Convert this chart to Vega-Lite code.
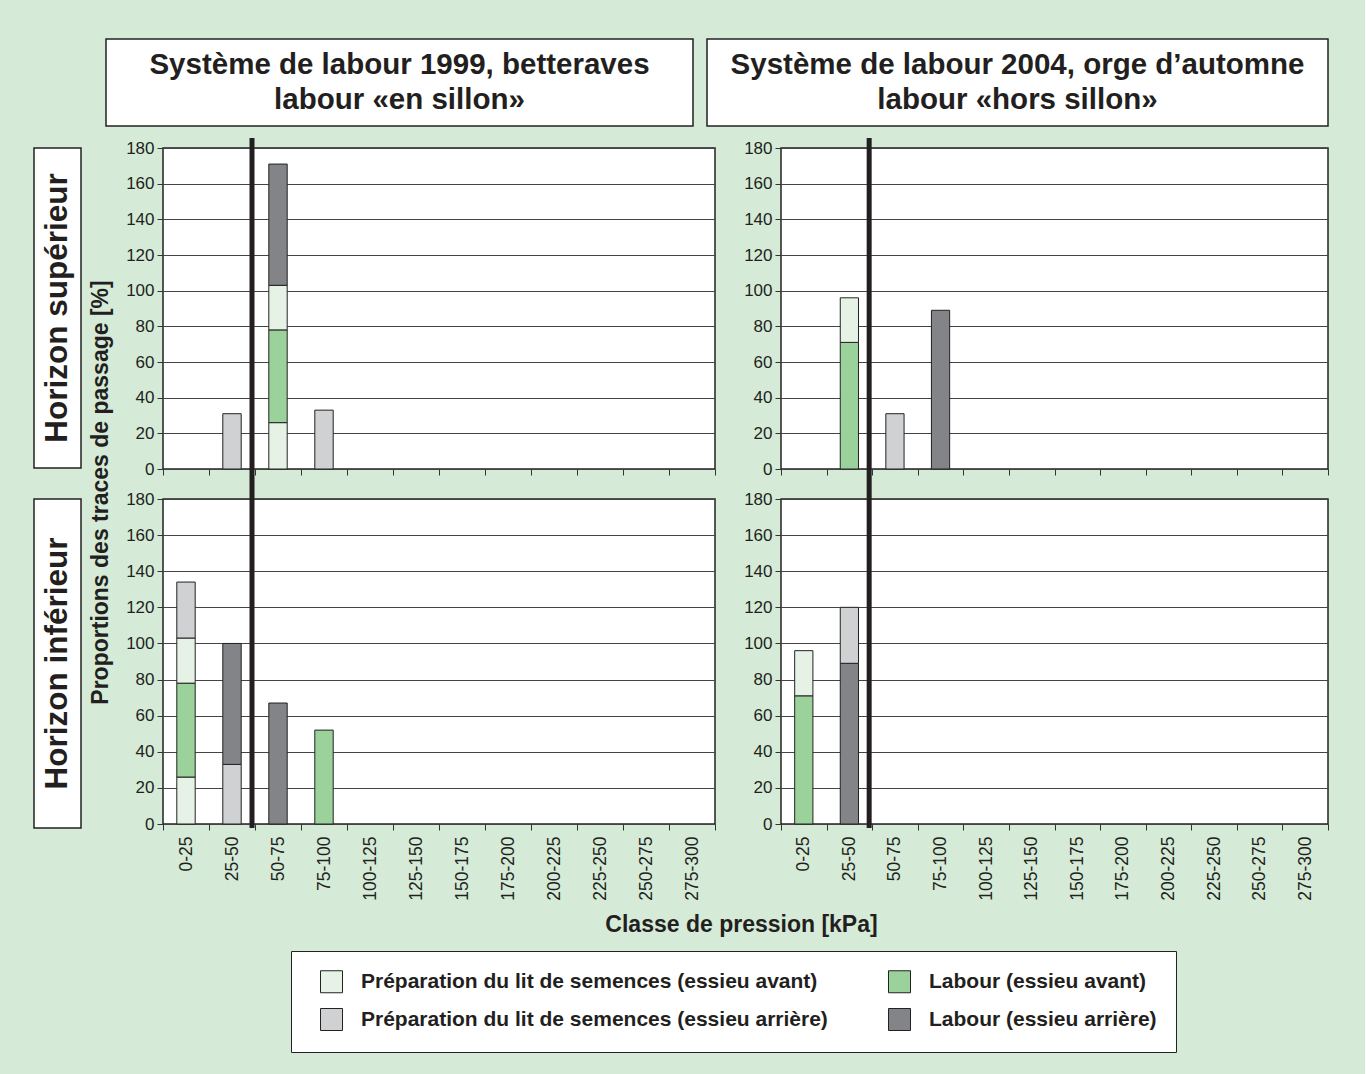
{
  "$schema": "https://vega.github.io/schema/vega-lite/v6.json",
  "background": "#d5ebd7",
  "padding": {"left": 33, "top": 38, "right": 35, "bottom": 22},
  "config": {
    "font": "Liberation Sans",
    "view": {"stroke": null},
    "axis": {"labelFont": "Liberation Sans", "titleFont": "Liberation Sans", "labelColor": "#231f20", "titleColor": "#231f20", "tickColor": "#333333", "domain": false},
    "legend": {
      "orient": "none", "legendX": 257, "legendY": 912, "columns": 2, "direction": "horizontal",
      "fillColor": "white", "strokeColor": "#222222", "padding": 19, "symbolOffset": 10,
      "symbolType": "square", "symbolSize": 484, "symbolStrokeColor": "#222222", "symbolStrokeWidth": 1,
      "labelFontSize": 21, "labelFontWeight": "bold", "labelFont": "Liberation Sans", "labelColor": "#231f20",
      "labelLimit": 0, "labelOffset": 18, "columnPadding": 50, "rowPadding": 11, "title": null
    }
  },
  "data": {"values": [
    {"sys": "1999", "hor": "sup", "classe": "25-50", "cat": "Préparation du lit de semences (essieu arrière)", "val": 31, "o": 1},
    {"sys": "1999", "hor": "sup", "classe": "50-75", "cat": "Préparation du lit de semences (essieu avant)", "val": 26, "o": 1},
    {"sys": "1999", "hor": "sup", "classe": "50-75", "cat": "Labour (essieu avant)", "val": 52, "o": 2},
    {"sys": "1999", "hor": "sup", "classe": "50-75", "cat": "Préparation du lit de semences (essieu avant)", "val": 25, "o": 3},
    {"sys": "1999", "hor": "sup", "classe": "50-75", "cat": "Labour (essieu arrière)", "val": 68, "o": 4},
    {"sys": "1999", "hor": "sup", "classe": "75-100", "cat": "Préparation du lit de semences (essieu arrière)", "val": 33, "o": 1},
    {"sys": "1999", "hor": "inf", "classe": "0-25", "cat": "Préparation du lit de semences (essieu avant)", "val": 26, "o": 1},
    {"sys": "1999", "hor": "inf", "classe": "0-25", "cat": "Labour (essieu avant)", "val": 52, "o": 2},
    {"sys": "1999", "hor": "inf", "classe": "0-25", "cat": "Préparation du lit de semences (essieu avant)", "val": 25, "o": 3},
    {"sys": "1999", "hor": "inf", "classe": "0-25", "cat": "Préparation du lit de semences (essieu arrière)", "val": 31, "o": 4},
    {"sys": "1999", "hor": "inf", "classe": "25-50", "cat": "Préparation du lit de semences (essieu arrière)", "val": 33, "o": 1},
    {"sys": "1999", "hor": "inf", "classe": "25-50", "cat": "Labour (essieu arrière)", "val": 67, "o": 2},
    {"sys": "1999", "hor": "inf", "classe": "50-75", "cat": "Labour (essieu arrière)", "val": 67, "o": 1},
    {"sys": "1999", "hor": "inf", "classe": "75-100", "cat": "Labour (essieu avant)", "val": 52, "o": 1},
    {"sys": "2004", "hor": "sup", "classe": "25-50", "cat": "Labour (essieu avant)", "val": 71, "o": 1},
    {"sys": "2004", "hor": "sup", "classe": "25-50", "cat": "Préparation du lit de semences (essieu avant)", "val": 25, "o": 2},
    {"sys": "2004", "hor": "sup", "classe": "50-75", "cat": "Préparation du lit de semences (essieu arrière)", "val": 31, "o": 1},
    {"sys": "2004", "hor": "sup", "classe": "75-100", "cat": "Labour (essieu arrière)", "val": 89, "o": 1},
    {"sys": "2004", "hor": "inf", "classe": "0-25", "cat": "Labour (essieu avant)", "val": 71, "o": 1},
    {"sys": "2004", "hor": "inf", "classe": "0-25", "cat": "Préparation du lit de semences (essieu avant)", "val": 25, "o": 2},
    {"sys": "2004", "hor": "inf", "classe": "25-50", "cat": "Labour (essieu arrière)", "val": 89, "o": 1},
    {"sys": "2004", "hor": "inf", "classe": "25-50", "cat": "Préparation du lit de semences (essieu arrière)", "val": 31, "o": 2}
  ]},
  "spacing": 7,
  "vconcat": [
    {
      "bounds": "flush",
      "spacing": 14,
      "hconcat": [
        {"width": 58, "height": 87, "data": {"values": [{"label": ""}]}, "mark": {"type": "text"}, "encoding": {"text": {"field": "label"}}},
        {"width": 587, "height": 87, "view": {"fill": "white", "stroke": "#222222", "strokeWidth": 1.5},
         "data": {"values": [{"label": "Système de labour 1999, betteraves\nlabour «en sillon»"}]},
         "mark": {"type": "text", "fontSize": 29.5, "fontWeight": "bold", "lineBreak": "\n", "lineHeight": 35, "baseline": "middle", "align": "center", "dy": -17.5, "color": "#231f20"},
         "encoding": {"text": {"field": "label"}}},
        {"width": 621, "height": 87, "view": {"fill": "white", "stroke": "#222222", "strokeWidth": 1.5},
         "data": {"values": [{"label": "Système de labour 2004, orge d’automne\nlabour «hors sillon»"}]},
         "mark": {"type": "text", "fontSize": 29.5, "fontWeight": "bold", "lineBreak": "\n", "lineHeight": 35, "baseline": "middle", "align": "center", "dy": -17.5, "color": "#231f20"},
         "encoding": {"text": {"field": "label"}}}
      ]
    },
    {
      "bounds": "flush",
      "align": "each",
      "columns": 5,
      "spacing": {"row": 30, "column": 0},
      "concat": [
        {"width": 47, "height": 320, "view": {"fill": "white", "stroke": "#222222", "strokeWidth": 1.5},
         "data": {"values": [{"label": "Horizon supérieur"}]},
         "mark": {"type": "text", "fontSize": 31.5, "fontWeight": "bold", "angle": 270, "baseline": "middle", "align": "center", "color": "#231f20"},
         "encoding": {"text": {"field": "label"}}},
        {"width": 82, "height": 321, "data": {"values": [{"label": ""}]}, "mark": {"type": "text"}, "encoding": {"text": {"field": "label"}}},
        {
          "width": 552, "height": 321,
          "view": {"fill": "white", "stroke": "#222222", "strokeWidth": 1.5},
          "layer": [
            {
              "transform": [{"filter": "datum.sys === '1999' && datum.hor === 'sup'"}],
              "mark": {"type": "bar", "width": {"band": 0.4}, "stroke": "#222222", "strokeWidth": 1},
              "encoding": {
                "x": {"field": "classe", "type": "nominal", "sort": null,
                      "scale": {"domain": ["0-25", "25-50", "50-75", "75-100", "100-125", "125-150", "150-175", "175-200", "200-225", "225-250", "250-275", "275-300"], "paddingInner": 0, "paddingOuter": 0},
                      "axis": {"title": null, "labels": false, "ticks": true, "tickBand": "extent", "tickSize": 6, "grid": false}},
                "y": {"field": "val", "type": "quantitative", "stack": "zero", "scale": {"domain": [0, 180], "nice": false},
                      "axis": {"values": [0, 20, 40, 60, 80, 100, 120, 140, 160, 180], "tickCount": 20, "grid": true, "gridColor": "#444444", "tickSize": 6, "labelPadding": 3, "labelFontSize": 17,
                               "title": "Proportions des traces de passage [%]", "titleFontSize": 23, "titleFontWeight": "bold", "titleX": -51, "titleY": 344, "titleAngle": -90, "titleAlign": "center", "titleBaseline": "bottom"}},
                "color": {"field": "cat", "type": "nominal",
                          "scale": {"domain": ["Préparation du lit de semences (essieu avant)", "Labour (essieu avant)", "Préparation du lit de semences (essieu arrière)", "Labour (essieu arrière)"], "range": ["#e6f2e5", "#9bd19a", "#d0d1d3", "#838487"]}},
                "order": {"field": "o", "type": "quantitative"}
              }
            },
            {
              "data": {"values": [{}]},
              "mark": {"type": "rule", "strokeWidth": 5, "color": "#231f20", "clip": false, "xOffset": -3},
              "encoding": {
                "x": {"datum": "50-75", "type": "nominal", "bandPosition": 0},
                "y": {"datum": 185.6, "type": "quantitative"},
                "y2": {"datum": -8.4}
              }
            }
          ]
        },
        {"width": 66, "height": 321, "data": {"values": [{"label": ""}]}, "mark": {"type": "text"}, "encoding": {"text": {"field": "label"}}},
        {
          "width": 547, "height": 321,
          "view": {"fill": "white", "stroke": "#222222", "strokeWidth": 1.5},
          "layer": [
            {
              "transform": [{"filter": "datum.sys === '2004' && datum.hor === 'sup'"}],
              "mark": {"type": "bar", "width": {"band": 0.4}, "stroke": "#222222", "strokeWidth": 1},
              "encoding": {
                "x": {"field": "classe", "type": "nominal", "sort": null,
                      "scale": {"domain": ["0-25", "25-50", "50-75", "75-100", "100-125", "125-150", "150-175", "175-200", "200-225", "225-250", "250-275", "275-300"], "paddingInner": 0, "paddingOuter": 0},
                      "axis": {"title": null, "labels": false, "ticks": true, "tickBand": "extent", "tickSize": 6, "grid": false}},
                "y": {"field": "val", "type": "quantitative", "stack": "zero", "scale": {"domain": [0, 180], "nice": false},
                      "axis": {"values": [0, 20, 40, 60, 80, 100, 120, 140, 160, 180], "tickCount": 20, "grid": true, "gridColor": "#444444", "tickSize": 6, "labelPadding": 3, "labelFontSize": 17, "title": null}},
                "color": {"field": "cat", "type": "nominal"},
                "order": {"field": "o", "type": "quantitative"}
              }
            },
            {
              "data": {"values": [{}]},
              "mark": {"type": "rule", "strokeWidth": 5, "color": "#231f20", "clip": false, "xOffset": -3},
              "encoding": {
                "x": {"datum": "50-75", "type": "nominal", "bandPosition": 0},
                "y": {"datum": 185.6, "type": "quantitative"},
                "y2": {"datum": -8.4}
              }
            }
          ]
        },
        {"width": 47, "height": 329, "view": {"fill": "white", "stroke": "#222222", "strokeWidth": 1.5},
         "data": {"values": [{"label": "Horizon inférieur"}]},
         "mark": {"type": "text", "fontSize": 31.5, "fontWeight": "bold", "angle": 270, "baseline": "middle", "align": "center", "color": "#231f20"},
         "encoding": {"text": {"field": "label"}}},
        {"width": 82, "height": 325, "data": {"values": [{"label": ""}]}, "mark": {"type": "text"}, "encoding": {"text": {"field": "label"}}},
        {
          "width": 552, "height": 325,
          "view": {"fill": "white", "stroke": "#222222", "strokeWidth": 1.5},
          "layer": [
            {
              "transform": [{"filter": "datum.sys === '1999' && datum.hor === 'inf'"}],
              "mark": {"type": "bar", "width": {"band": 0.4}, "stroke": "#222222", "strokeWidth": 1},
              "encoding": {
                "x": {"field": "classe", "type": "nominal", "sort": null,
                      "scale": {"domain": ["0-25", "25-50", "50-75", "75-100", "100-125", "125-150", "150-175", "175-200", "200-225", "225-250", "250-275", "275-300"], "paddingInner": 0, "paddingOuter": 0},
                      "axis": {"labelAngle": -90, "labelAlign": "right", "labelBaseline": "middle", "labelFontSize": 17.5, "labelPadding": 6, "ticks": true, "tickBand": "extent", "tickSize": 6, "grid": false,
                               "title": "Classe de pression [kPa]", "titleFontSize": 23, "titleFontWeight": "bold", "titleX": 578, "titleY": 89, "titleAlign": "center", "titleBaseline": "top"}},
                "y": {"field": "val", "type": "quantitative", "stack": "zero", "scale": {"domain": [0, 180], "nice": false},
                      "axis": {"values": [0, 20, 40, 60, 80, 100, 120, 140, 160, 180], "tickCount": 20, "grid": true, "gridColor": "#444444", "tickSize": 6, "labelPadding": 3, "labelFontSize": 17, "title": null}},
                "color": {"field": "cat", "type": "nominal"},
                "order": {"field": "o", "type": "quantitative"}
              }
            },
            {
              "data": {"values": [{}]},
              "mark": {"type": "rule", "strokeWidth": 5, "color": "#231f20", "clip": false, "xOffset": -3},
              "encoding": {
                "x": {"datum": "50-75", "type": "nominal", "bandPosition": 0},
                "y": {"datum": 188.3, "type": "quantitative"},
                "y2": {"datum": -2.2}
              }
            }
          ]
        },
        {"width": 66, "height": 325, "data": {"values": [{"label": ""}]}, "mark": {"type": "text"}, "encoding": {"text": {"field": "label"}}},
        {
          "width": 547, "height": 325,
          "view": {"fill": "white", "stroke": "#222222", "strokeWidth": 1.5},
          "layer": [
            {
              "transform": [{"filter": "datum.sys === '2004' && datum.hor === 'inf'"}],
              "mark": {"type": "bar", "width": {"band": 0.4}, "stroke": "#222222", "strokeWidth": 1},
              "encoding": {
                "x": {"field": "classe", "type": "nominal", "sort": null,
                      "scale": {"domain": ["0-25", "25-50", "50-75", "75-100", "100-125", "125-150", "150-175", "175-200", "200-225", "225-250", "250-275", "275-300"], "paddingInner": 0, "paddingOuter": 0},
                      "axis": {"labelAngle": -90, "labelAlign": "right", "labelBaseline": "middle", "labelFontSize": 17.5, "labelPadding": 6, "ticks": true, "tickBand": "extent", "tickSize": 6, "grid": false, "title": null}},
                "y": {"field": "val", "type": "quantitative", "stack": "zero", "scale": {"domain": [0, 180], "nice": false},
                      "axis": {"values": [0, 20, 40, 60, 80, 100, 120, 140, 160, 180], "tickCount": 20, "grid": true, "gridColor": "#444444", "tickSize": 6, "labelPadding": 3, "labelFontSize": 17, "title": null}},
                "color": {"field": "cat", "type": "nominal"},
                "order": {"field": "o", "type": "quantitative"}
              }
            },
            {
              "data": {"values": [{}]},
              "mark": {"type": "rule", "strokeWidth": 5, "color": "#231f20", "clip": false, "xOffset": -3},
              "encoding": {
                "x": {"datum": "50-75", "type": "nominal", "bandPosition": 0},
                "y": {"datum": 188.3, "type": "quantitative"},
                "y2": {"datum": -2.2}
              }
            }
          ]
        }
      ]
    }
  ]
}
